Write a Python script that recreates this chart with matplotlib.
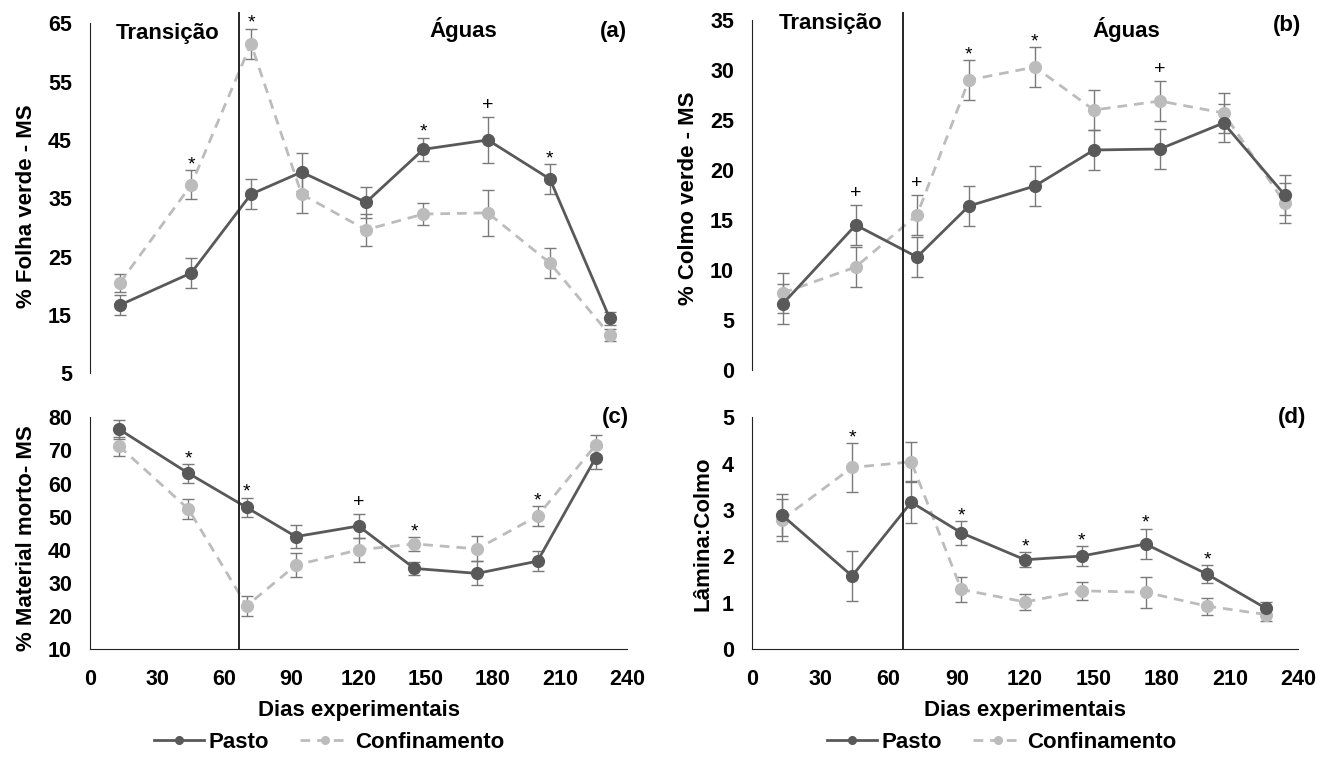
import numpy as np
import matplotlib.pyplot as plt
from matplotlib.lines import Line2D

plt.rcParams['font.family'] = ['Liberation Sans', 'DejaVu Sans']
plt.rcParams['font.weight'] = 'bold'

# dias de coleta
dias = [13, 44, 70, 92, 120, 145, 173, 200, 226]

# (a) % Folha verde - MS
folha_pasto = [16.7, 22.2, 35.7, 39.5, 34.3, 43.4, 45.0, 38.3, 14.4]
folha_pasto_ep = [1.7, 2.5, 2.6, 3.2, 2.7, 2.0, 4.0, 2.6, 1.1]
folha_conf = [20.5, 37.3, 61.5, 35.7, 29.6, 32.3, 32.5, 23.9, 11.6]
folha_conf_ep = [1.6, 2.5, 2.6, 3.2, 2.7, 1.9, 4.0, 2.6, 1.0]
folha_sig = [(1, 'c', '*'), (2, 'c', '*'), (5, 'p', '*'), (6, 'p', '+'), (7, 'p', '*')]

# (b) % Colmo verde - MS
colmo_pasto = [6.6, 14.5, 11.3, 16.4, 18.4, 22.0, 22.1, 24.7, 17.5]
colmo_pasto_ep = [2.0, 2.0, 2.0, 2.0, 2.0, 2.0, 2.0, 1.9, 2.0]
colmo_conf = [7.7, 10.3, 15.5, 29.0, 30.3, 26.0, 26.9, 25.7, 16.7]
colmo_conf_ep = [2.0, 2.0, 2.0, 2.0, 2.0, 2.0, 2.0, 2.0, 2.0]
colmo_sig = [(1, 'p', '+'), (2, 'c', '+'), (3, 'c', '*'), (4, 'c', '*'), (6, 'c', '+')]

# (c) % Material morto - MS
morto_pasto = [76.4, 63.1, 52.8, 44.0, 47.2, 34.4, 32.9, 36.6, 67.8]
morto_pasto_ep = [2.9, 2.9, 3.0, 3.5, 3.6, 2.0, 3.6, 3.1, 3.3]
morto_conf = [71.3, 52.3, 23.1, 35.4, 40.0, 41.8, 40.3, 50.2, 71.6]
morto_conf_ep = [2.9, 2.9, 3.0, 3.7, 3.7, 2.0, 3.8, 3.1, 3.0]
morto_sig = [(1, 'p', '*'), (2, 'p', '*'), (4, 'p', '+'), (5, 'c', '*'), (7, 'c', '*')]

# (d) Lâmina:Colmo
lc_pasto = [2.90, 1.58, 3.17, 2.51, 1.93, 2.01, 2.27, 1.62, 0.88]
lc_pasto_ep = [0.45, 0.53, 0.44, 0.26, 0.16, 0.21, 0.33, 0.19, 0.15]
lc_conf = [2.79, 3.92, 4.04, 1.29, 1.02, 1.26, 1.23, 0.93, 0.75]
lc_conf_ep = [0.45, 0.53, 0.42, 0.27, 0.17, 0.20, 0.33, 0.18, 0.15]
lc_sig = [(1, 'c', '*'), (3, 'p', '*'), (4, 'p', '*'), (5, 'p', '*'), (6, 'p', '*'), (7, 'p', '*')]

cor_pasto = '#595959'
cor_conf = '#bcbcbc'
cor_erro = '#7a7a7a'
dia_transicao = 66.4
fs = 16

W, H = 1324, 774
fig = plt.figure(figsize=(W / 100, H / 100), dpi=100)


def px_axes(x0, x1, y_top, y_bot):
    return fig.add_axes([x0 / W, 1 - y_bot / H, (x1 - x0) / W, (y_bot - y_top) / H])


ax_a = px_axes(90, 627, 23.3, 373.3)
ax_c = px_axes(90, 627, 417.3, 649.3)
ax_b = px_axes(752, 1298, 20, 370)
ax_d = px_axes(752, 1298, 417.3, 649.3)


def painel(ax, pasto, pasto_ep, conf, conf_ep, sig, ylim, yticks, topo):
    ax.errorbar(dias, conf, yerr=conf_ep, fmt='none', ecolor=cor_erro,
                elinewidth=1, capsize=4.5, capthick=1, zorder=2)
    ax.errorbar(dias, pasto, yerr=pasto_ep, fmt='none', ecolor=cor_erro,
                elinewidth=1, capsize=4.5, capthick=1, zorder=2)
    ax.plot(dias, conf, color=cor_conf, lw=2, ls=(0, (3.5, 2.5)), marker='o',
            ms=8.5, zorder=3)
    ax.plot(dias, pasto, color=cor_pasto, lw=2, marker='o', ms=8.5, zorder=4)
    for i, s, sym in sig:
        if s == 'p':
            y = pasto[i] + pasto_ep[i]
        else:
            y = conf[i] + conf_ep[i]
        off = 0.5 if sym == '*' else 5
        ax.annotate(sym, (dias[i], y), xytext=(0, off), textcoords='offset points',
                    ha='center', va='baseline', fontsize=14, color='black',
                    fontweight='normal')
    ax.set_ylim(*ylim)
    ax.set_yticks(yticks)
    ax.spines['top'].set_visible(False)
    ax.spines['right'].set_visible(False)
    ax.spines['left'].set_color('#222222')
    ax.tick_params(axis='y', length=0, pad=13, labelsize=15.5)
    if topo:
        ax.spines['bottom'].set_visible(False)
        ax.set_xticks([])
    else:
        ax.spines['bottom'].set_color('#222222')
        ax.set_xlim(0, 240)
        ax.set_xticks(range(0, 241, 30))
        ax.tick_params(axis='x', length=0, pad=14, labelsize=15.5)
        ax.text(0.5, -0.262, 'Dias experimentais', transform=ax.transAxes,
                ha='center', va='center', fontsize=fs)


painel(ax_a, folha_pasto, folha_pasto_ep, folha_conf, folha_conf_ep, folha_sig,
       (5, 65), range(5, 66, 10), True)
ax_a.set_xlim(0, 233.5)
painel(ax_b, colmo_pasto, colmo_pasto_ep, colmo_conf, colmo_conf_ep, colmo_sig,
       (0, 35), range(0, 36, 5), True)
ax_b.set_xlim(0, 231.6)
painel(ax_c, morto_pasto, morto_pasto_ep, morto_conf, morto_conf_ep, morto_sig,
       (10, 80), range(10, 81, 10), False)
painel(ax_d, lc_pasto, lc_pasto_ep, lc_conf, lc_conf_ep, lc_sig,
       (0, 5), range(0, 6, 1), False)

# rótulos dos eixos y
ax_a.text(-0.118, 0.478, '% Folha verde - MS', transform=ax_a.transAxes, rotation=90,
          ha='center', va='center', fontsize=fs)
ax_c.text(-0.118, 0.48, '% Material morto- MS', transform=ax_c.transAxes, rotation=90,
          ha='center', va='center', fontsize=fs)
ax_b.text(-0.117, 0.49, '% Colmo verde - MS', transform=ax_b.transAxes, rotation=90,
          ha='center', va='center', fontsize=fs)
ax_d.text(-0.09, 0.5, 'Lâmina:Colmo', transform=ax_d.transAxes, rotation=90,
          ha='center', va='center', fontsize=fs)

# textos das fases e letras
fig.text(168 / W, 1 - 33 / H, 'Transição', ha='center', va='center', fontsize=fs)
fig.text(463 / W, 1 - 30 / H, 'Águas', ha='center', va='center', fontsize=fs)
fig.text(613 / W, 1 - 31 / H, '(a)', ha='center', va='center', fontsize=fs)
fig.text(831 / W, 1 - 24 / H, 'Transição', ha='center', va='center', fontsize=fs)
fig.text(1126 / W, 1 - 30 / H, 'Águas', ha='center', va='center', fontsize=fs)
fig.text(1287 / W, 1 - 25 / H, '(b)', ha='center', va='center', fontsize=fs)
fig.text(615 / W, 1 - 418 / H, '(c)', ha='center', va='center', fontsize=fs)
fig.text(1292 / W, 1 - 418 / H, '(d)', ha='center', va='center', fontsize=fs)

# linha vertical da transição (atravessa os dois painéis)
for ax_bot in (ax_c, ax_d):
    xpix = ax_bot.transData.transform((dia_transicao, 0))[0]
    xf = xpix / W
    fig.add_artist(Line2D([xf, xf], [ax_bot.get_position().y0, 1 - 13 / H],
                          transform=fig.transFigure, color='#262626', lw=1.4, zorder=5))

# legendas
handles = [Line2D([], [], color=cor_pasto, lw=2, marker='o', ms=5.5),
           Line2D([], [], color=cor_conf, lw=2, ls=(0, (3.5, 2.5)), marker='o', ms=5.5)]
for xc in (329 / W, 1002 / W):
    fig.legend(handles, ['Pasto', 'Confinamento'], loc='center', bbox_to_anchor=(xc, 1 - 742 / H),
               ncol=2, frameon=False, fontsize=fs, handlelength=2.25, columnspacing=1.4,
               handletextpad=0.2)

fig.savefig('out.png', dpi=100)
